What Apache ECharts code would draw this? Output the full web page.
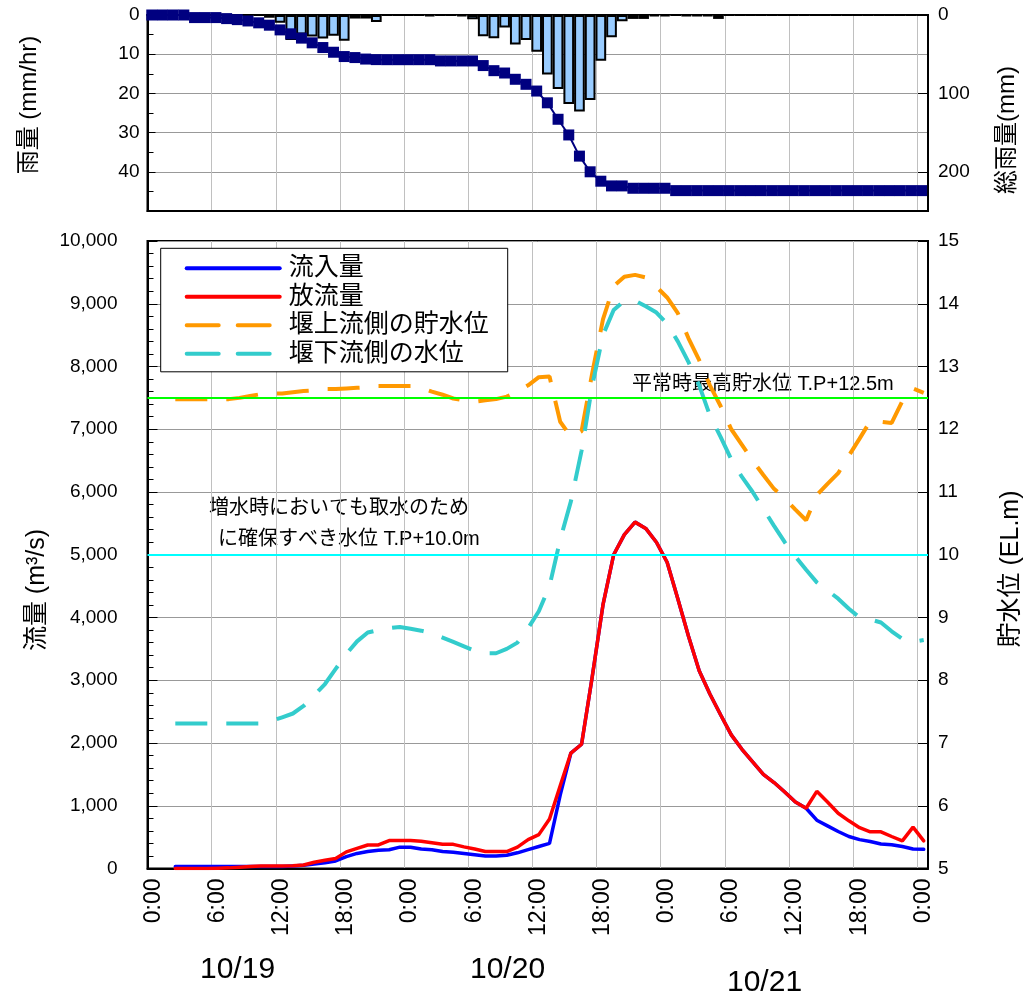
<!DOCTYPE html>
<html>
<head>
<meta charset="utf-8">
<script src="https://cdn.jsdelivr.net/npm/echarts@6/dist/echarts.min.js"></script>
<style>
html, body { margin: 0; padding: 0; background: #fff; }
#chart { width: 1026px; height: 996px; }
</style>
</head>
<body>
<div id="chart"></div>
<script>
// 時間雨量 (mm/hr) 10/19 0:00 から1時間毎
const rainRate = [
  0, 0, 0, 0, 0, 0, 0, 0, 0, 0,
  0, 0.7, 2.0, 6.4, 5.0, 5.5, 6.0, 5.3, 6.6, 0.9,
  0.9, 1.8, 0, 0, 0, 0, 0.3, 0, 0, 0.3,
  1.1, 5.4, 5.9, 3.2, 7.5, 6.4, 9.4, 15.2, 18.9, 22.7,
  24.6, 21.7, 11.7, 5.7, 1.6, 1.0, 1.0, 0.3, 0.3, 0,
  0.2, 0.2, 0.2, 1.0, 0, 0, 0, 0, 0, 0,
  0, 0, 0, 0, 0, 0, 0, 0, 0, 0,
  0, 0, 0
];
// 総雨量 (mm)
const rainTotal = [
  0, 0, 0, 0, 3.3, 3.3, 3.3, 4.6, 5.9, 7.6,
  10, 13, 19, 24, 29.5, 35.5, 41.5, 47.5, 53, 54.3,
  56.2, 56.9, 57, 57, 57, 57, 57, 58.6, 58.6, 58.6,
  58.6, 64.5, 71, 74, 82, 88.4, 97, 112, 133, 153,
  180, 200, 212, 218, 218, 221, 221, 221, 221, 224,
  224, 224, 224, 224, 224, 224, 224, 224, 224, 224,
  224, 224, 224, 224, 224, 224, 224, 224, 224, 224,
  224, 224, 224
];
const rainStart = 0.4; // 最初の雨量データの時刻 (h)

// 流量 (m3/s) と水位 (EL.m)、1時間毎
const flowStart = 2.6;
const inflow = [
  30, 30, 30, 30, 30, 30, 30, 30, 30, 30,
  30, 40, 50, 70, 90, 120, 190, 240, 270, 290,
  300, 340, 340, 310, 300, 270, 260, 240, 220, 200,
  200, 210, 250, 300, 350, 400, 1170, 1840, 1980, 3060,
  4200, 5000, 5320, 5520, 5420, 5200, 4880, 4300, 3700, 3150,
  2780, 2450, 2130, 1900, 1700, 1500, 1370, 1220, 1060, 960,
  770, 680, 590, 510, 460, 430, 390, 380, 350, 310,
  305
];
const outflow = [
  0, 0, 0, 0, 5, 10, 20, 30, 40, 40,
  40, 45, 55, 100, 130, 160, 265, 320, 375, 375,
  445, 445, 445, 435, 410, 385, 385, 345, 310, 270,
  270, 270, 340, 460, 540, 790, 1320, 1840, 1980, 3060,
  4200, 5000, 5320, 5520, 5420, 5200, 4880, 4300, 3700, 3150,
  2780, 2450, 2130, 1900, 1700, 1500, 1370, 1220, 1060, 960,
  1230, 1060, 880, 760, 650, 585, 585, 510, 440, 660,
  440
];
const upLevel = [
  12.48, 12.48, 12.48, 12.48, 12.48, 12.48, 12.5, 12.53, 12.56, 12.57,
  12.57, 12.59, 12.61, 12.62, 12.64, 12.64, 12.65, 12.66, 12.67, 12.69,
  12.69, 12.69, 12.69, 12.66, 12.6, 12.55, 12.49, 12.46, 12.44, 12.46,
  12.48, 12.52, 12.6, 12.7, 12.83, 12.84, 12.12, 11.88, 11.97, 12.9,
  13.75, 14.28, 14.43, 14.46, 14.42, 14.27, 14.1, 13.85, 13.45, 13.1,
  12.7, 12.37, 12.0, 11.75, 11.5, 11.27, 11.05, 10.9, 10.72, 10.55,
  10.95, 11.13, 11.3, 11.58, 11.85, 12.13, 12.12, 12.1, 12.45, 12.65,
  12.58
];
const downLevel = [
  7.31, 7.31, 7.31, 7.31, 7.31, 7.31, 7.31, 7.31, 7.31, 7.35,
  7.41, 7.47, 7.59, 7.76, 7.94, 8.18, 8.42, 8.62, 8.76, 8.8,
  8.83, 8.85, 8.82, 8.79, 8.75, 8.68, 8.61, 8.54, 8.47, 8.43,
  8.43, 8.5, 8.6, 8.83, 9.1, 9.5, 10.24, 10.85, 11.66, 12.7,
  13.5, 13.9, 14.05, 14.05, 13.96, 13.86, 13.68, 13.4, 13.07, 12.7,
  12.22, 11.88, 11.52, 11.24, 11.0, 10.73, 10.46, 10.2, 9.97, 9.76,
  9.56, 9.43, 9.3, 9.14, 9.0, 8.97, 8.92, 8.78, 8.66, 8.61,
  8.64
];
const seriesNames = ['流入量', '放流量', '堰上流側の貯水位', '堰下流側の水位'];
const normalHighLevel = 12.5;
const intakeLevel = 10.0;
const dayLabels = ['10/19', '10/20', '10/21'];

const FONT = "'Liberation Sans', 'Noto Sans CJK JP', sans-serif";
const rainPts = (arr) => arr.map((v, i) => [rainStart + i, v]);
const flowPts = (arr) => arr.map((v, i) => [flowStart + i, v]);

let chart = echarts.init(document.getElementById('chart'), null, { renderer: 'canvas' });

function timeAxis(gridIndex, showLabel) {
  return {
    type: 'value',
    gridIndex: gridIndex,
    min: 0,
    max: 73,
    interval: 6,
    axisLine: { show: true, onZero: false, lineStyle: { color: '#000', width: 2 } },
    axisTick: { show: false },
    axisLabel: {
      show: showLabel,
      rotate: 90,
      margin: 10,
      fontSize: 23,
      fontFamily: FONT,
      color: '#000',
      verticalAlign: 'top',
      lineHeight: 12,
      formatter: (v) => (v % 6 === 0 && v <= 72 ? (v % 24) + ':00' : ''),
    },
    splitLine: { show: true, lineStyle: { color: '#c0c0c0', width: 1 } },
  };
}

// 縦書きの軸タイトル
function axisTitle(text, x, y, size) {
  return {
    type: 'text', x: x, y: y, rotation: Math.PI / 2,
    style: { text: text, fontSize: size, fill: '#000', fontFamily: FONT, align: 'center', verticalAlign: 'middle' },
  };
}

let options = {
  animation: false,
  backgroundColor: '#fff',
  textStyle: { fontFamily: FONT },
  grid: [
    { left: 147.5, right: 98, top: 15, height: 196, show: true, borderColor: '#000', borderWidth: 2, outerBoundsMode: 'none' },
    { left: 147.5, right: 98, top: 241, height: 627.5, show: true, borderColor: '#000', borderWidth: 2, outerBoundsMode: 'none' },
  ],
  xAxis: [timeAxis(0, false), timeAxis(1, true)],
  yAxis: [
    {
      // 雨量
      type: 'value', gridIndex: 0, position: 'left', inverse: true,
      min: 0, max: 50, interval: 10,
      axisLine: { show: true, lineStyle: { color: '#000', width: 2 } },
      axisTick: { show: true, inside: true, length: 8, lineStyle: { color: '#000' } },
      minorTick: { show: true, splitNumber: 2, length: 6, lineStyle: { color: '#000' } },
      axisLabel: { fontSize: 19, color: '#000', margin: 8, formatter: (v) => (v >= 50 ? '' : v) },
      splitLine: { show: true, lineStyle: { color: '#999' } },
    },
    {
      // 総雨量
      type: 'value', gridIndex: 0, position: 'right', inverse: true,
      min: 0, max: 250, interval: 100,
      axisLine: { show: true, lineStyle: { color: '#000', width: 2 } },
      axisTick: { show: true, inside: true, length: 10, lineStyle: { color: '#000' } },
      axisLabel: { fontSize: 19, color: '#000', margin: 10, formatter: (v) => (v % 100 === 0 ? v : '') },
      splitLine: { show: false },
    },
    {
      // 流量
      type: 'value', gridIndex: 1, position: 'left',
      min: 0, max: 10000, interval: 1000,
      axisLine: { show: true, lineStyle: { color: '#000', width: 2 } },
      axisTick: { show: true, inside: true, length: 10, lineStyle: { color: '#000' } },
      minorTick: { show: true, splitNumber: 5, length: 6, lineStyle: { color: '#000' } },
      axisLabel: { fontSize: 19, color: '#000', margin: 30, formatter: (v) => v.toLocaleString('en-US') },
      splitLine: { show: true, lineStyle: { color: '#999' } },
    },
    {
      // 貯水位
      type: 'value', gridIndex: 1, position: 'right',
      min: 5, max: 15, interval: 1,
      axisLine: { show: true, lineStyle: { color: '#000', width: 2 } },
      axisTick: { show: true, inside: true, length: 10, lineStyle: { color: '#000' } },
      axisLabel: { fontSize: 19, color: '#000', margin: 10 },
      splitLine: { show: false },
    },
  ],
  legend: {
    data: seriesNames,
    orient: 'vertical',
    left: 160.7,
    top: 248.3,
    padding: [7.5, 19, 5.5, 24],
    itemWidth: 93,
    itemHeight: 20,
    itemGap: 3.5,
    backgroundColor: '#fff',
    borderColor: '#000',
    borderWidth: 1,
    borderRadius: 0,
    itemStyle: { opacity: 0 },
    lineStyle: { width: 4, cap: 'round' },
    textStyle: { fontSize: 25, color: '#000', fontFamily: FONT, padding: [0, 0, 0, 4] },
  },
  series: [
    {
      name: '雨量',
      type: 'bar',
      xAxisIndex: 0, yAxisIndex: 0,
      barWidth: 10.7,
      itemStyle: { color: '#99ccff', borderColor: '#000', borderWidth: 2 },
      data: rainPts(rainRate),
    },
    {
      name: '総雨量',
      type: 'line',
      xAxisIndex: 0, yAxisIndex: 1,
      symbol: 'rect', symbolSize: 11,
      itemStyle: { color: '#000080' },
      lineStyle: { color: '#000080', width: 2 },
      data: rainPts(rainTotal),
    },
    {
      name: seriesNames[0],
      type: 'line',
      xAxisIndex: 1, yAxisIndex: 2,
      symbol: 'none',
      itemStyle: { color: '#0000ff' },
      lineStyle: { color: '#0000ff', width: 3.5, cap: 'round' },
      data: flowPts(inflow),
    },
    {
      name: seriesNames[1],
      type: 'line',
      xAxisIndex: 1, yAxisIndex: 2,
      symbol: 'none',
      itemStyle: { color: '#ff0000' },
      lineStyle: { color: '#ff0000', width: 3.5, cap: 'round' },
      data: flowPts(outflow),
    },
    {
      name: seriesNames[2],
      type: 'line',
      xAxisIndex: 1, yAxisIndex: 3,
      symbol: 'none',
      itemStyle: { color: '#ff9900' },
      lineStyle: { color: '#ff9900', width: 4, type: [32, 19] },
      data: flowPts(upLevel),
      markLine: {
        silent: true,
        symbol: ['none', 'none'],
        label: { show: false },
        lineStyle: { color: '#00ff00', width: 2, type: 'solid' },
        data: [{ yAxis: normalHighLevel }],
      },
    },
    {
      name: seriesNames[3],
      type: 'line',
      xAxisIndex: 1, yAxisIndex: 3,
      symbol: 'none',
      itemStyle: { color: '#33cccc' },
      lineStyle: { color: '#33cccc', width: 4, type: [32, 19] },
      data: flowPts(downLevel),
      markLine: {
        silent: true,
        symbol: ['none', 'none'],
        label: { show: false },
        lineStyle: { color: '#00ffff', width: 2, type: 'solid' },
        data: [{ yAxis: intakeLevel }],
      },
    },
  ],
  graphic: [
    axisTitle('雨量 (mm/hr)', 29, 105, 24),
    axisTitle('総雨量(mm)', 1007, 130, 24),
    axisTitle('流量 (m³/s)', 37, 590, 25),
    axisTitle('貯水位 (EL.m)', 1011, 569, 25),
    { type: 'text', left: 632, top: 374, style: { text: '平常時最高貯水位 T.P+12.5m', fontSize: 20, fill: '#000', fontFamily: FONT } },
    { type: 'text', left: 209, top: 498, style: { text: '増水時においても取水のため', fontSize: 20, fill: '#000', fontFamily: FONT } },
    { type: 'text', left: 218, top: 529, style: { text: 'に確保すべき水位 T.P+10.0m', fontSize: 20, fill: '#000', fontFamily: FONT } },
    { type: 'text', left: 200, top: 955, style: { text: dayLabels[0], fontSize: 30, fill: '#000', fontFamily: FONT } },
    { type: 'text', left: 470, top: 955, style: { text: dayLabels[1], fontSize: 30, fill: '#000', fontFamily: FONT } },
    { type: 'text', left: 727, top: 968, style: { text: dayLabels[2], fontSize: 30, fill: '#000', fontFamily: FONT } },
  ],
};

chart.setOption(options);
</script>
</body>
</html>
